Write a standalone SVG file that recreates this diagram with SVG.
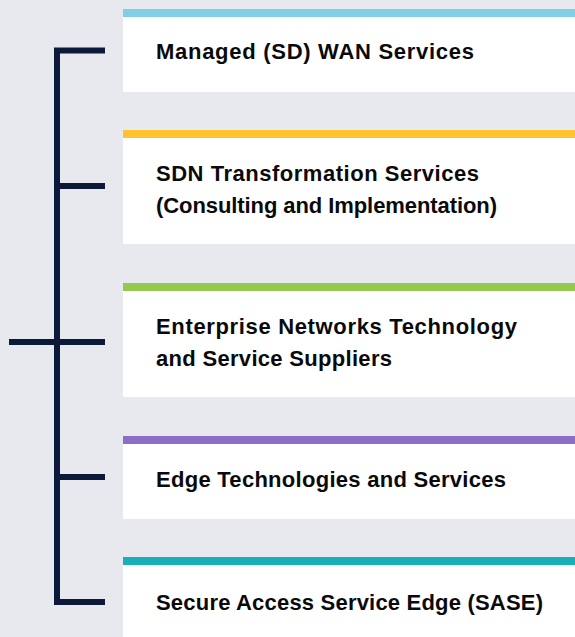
<svg xmlns="http://www.w3.org/2000/svg" width="575" height="637" viewBox="0 0 575 637">
<style>
.card{fill:#ffffff}
.lbl{font-family:"Liberation Sans",Arial,sans-serif;font-weight:bold;font-size:22px;fill:#0a0a0a}
.br{stroke:#0b1a3b;stroke-width:6;fill:none}
</style>
<rect width="575" height="637" fill="#e8e9ee"/>
<g id="connectors">
<path class="br" d="M105,50.5 H57 V602 H105"/>
<path class="br" d="M57,186 H105 M9,342 H105 M57,477 H105"/>
</g>
<g id="node1">
<rect class="card" x="123" y="9" width="452" height="83"/>
<rect x="123" y="9" width="452" height="8" fill="#80cfe2"/>
<text class="lbl" x="156" y="59" textLength="318" lengthAdjust="spacing">Managed (SD) WAN Services</text>
</g>
<g id="node2">
<rect class="card" x="123" y="130" width="452" height="114"/>
<rect x="123" y="130" width="452" height="8" fill="#ffc230"/>
<text class="lbl" x="156" y="181" textLength="323" lengthAdjust="spacing">SDN Transformation Services</text>
<text class="lbl" x="156" y="213" textLength="341" lengthAdjust="spacing">(Consulting and Implementation)</text>
</g>
<g id="node3">
<rect class="card" x="123" y="283" width="452" height="114"/>
<rect x="123" y="283" width="452" height="8" fill="#95c94b"/>
<text class="lbl" x="156" y="334" textLength="361" lengthAdjust="spacing">Enterprise Networks Technology</text>
<text class="lbl" x="156" y="366" textLength="236" lengthAdjust="spacing">and Service Suppliers</text>
</g>
<g id="node4">
<rect class="card" x="123" y="436" width="452" height="83"/>
<rect x="123" y="436" width="452" height="8" fill="#8b6fc6"/>
<text class="lbl" x="156" y="487" textLength="350" lengthAdjust="spacing">Edge Technologies and Services</text>
</g>
<g id="node5">
<rect class="card" x="123" y="557" width="452" height="80"/>
<rect x="123" y="557" width="452" height="8" fill="#1aaeb9"/>
<text class="lbl" x="156" y="610" textLength="387" lengthAdjust="spacing">Secure Access Service Edge (SASE)</text>
</g>
</svg>
